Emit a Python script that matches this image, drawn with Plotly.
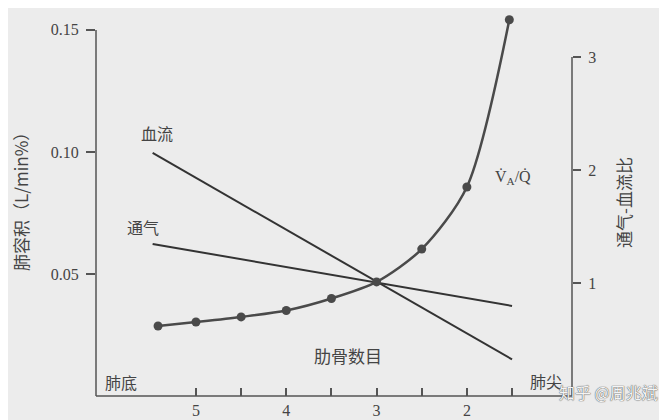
import plotly.graph_objects as go

# Data
rib_lines = [5.48, 1.5]                 # rib number at ends of straight lines
blood_flow = [0.0996, 0.0150]           # L/min% (left axis)
ventilation = [0.0623, 0.0369]          # L/min% (left axis)

rib_points = [5.42, 5, 4.5, 4, 3.5, 3, 2.5, 2, 1.53]
va_q = [0.62, 0.655, 0.70, 0.757, 0.863, 1.01, 1.30, 1.85, 3.33]

x_major = [5, 4, 3, 2]
x_minor = [4.5, 3.5, 2.5, 1.5]
left_ticks = [0.05, 0.10, 0.15]
left_ticktext = ["0.05", "0.10", "0.15"]
right_ticks = [1, 2, 3]

BG = "#ececec"
INK = "#333333"
AX = "#555555"
SERIF = "Liberation Serif, Noto Sans CJK SC, serif"
CJK = "Noto Sans CJK SC, Liberation Serif, sans-serif"

fig = go.Figure()
fig.add_trace(go.Scatter(x=rib_lines, y=blood_flow, mode="lines",
                         line=dict(color=INK, width=2), yaxis="y", showlegend=False))
fig.add_trace(go.Scatter(x=rib_lines, y=ventilation, mode="lines",
                         line=dict(color=INK, width=2), yaxis="y", showlegend=False))
fig.add_trace(go.Scatter(x=rib_points, y=va_q, mode="lines+markers",
                         line=dict(color="#4a4a4a", width=2.5, shape="spline", smoothing=0.8),
                         marker=dict(color="#4a4a4a", size=9),
                         yaxis="y2", showlegend=False, cliponaxis=False))

# the page body adds an 8px margin, so the figure is 8px smaller and shifted
fig.update_layout(
    width=659, height=412,
    paper_bgcolor=BG, plot_bgcolor=BG,
    margin=dict(l=88, r=95, t=7, b=24),
    xaxis=dict(range=[6.107, 0.836], showgrid=False, zeroline=False, showline=False,
               automargin=False,
               tickmode="array", tickvals=x_major,
               ticks="inside", ticklen=8, tickwidth=1.5, tickcolor=AX,
               ticklabelstandoff=3,
               minor=dict(tickvals=x_minor, ticks="inside", ticklen=8,
                          tickwidth=1.5, tickcolor=AX, showgrid=False),
               tickfont=dict(family=SERIF, size=16, color="#444")),
    yaxis=dict(range=[0, 0.1561], showgrid=False, zeroline=False, showline=False,
               automargin=False,
               tickmode="array", tickvals=left_ticks, ticktext=left_ticktext,
               ticks="outside", ticklen=9, tickwidth=1.5, tickcolor=AX,
               ticklabelstandoff=4,
               tickfont=dict(family=SERIF, size=16, color="#444")),
    yaxis2=dict(range=[0, 3.372], overlaying="y", side="right", showgrid=False,
                zeroline=False, showline=False, automargin=False,
                tickmode="array", tickvals=right_ticks,
                ticks="outside", ticklen=8, tickwidth=1.5, tickcolor=AX,
                ticklabelstandoff=4,
                tickfont=dict(family=SERIF, size=16, color="#444")),
)

# axis lines (left 0-0.15, right 0-3, bottom full width)
fig.add_shape(type="line", xref="paper", yref="y", x0=0, x1=0, y0=0, y1=0.15,
              line=dict(color=AX, width=1.5))
fig.add_shape(type="line", xref="paper", yref="y2", x0=1, x1=1, y0=0, y1=3,
              line=dict(color=AX, width=1.5))
fig.add_shape(type="line", xref="paper", yref="paper", x0=0, x1=1, y0=0, y1=0,
              line=dict(color=AX, width=1.5))

def ann(text, x, y, size=16, angle=0, family=CJK, color="#444"):
    fig.add_annotation(text=text, x=x, y=y, xref="paper", yref="paper",
                       xanchor="center", yanchor="middle", showarrow=False,
                       textangle=angle, font=dict(family=family, size=size, color=color))

# screen-pixel helpers (plot area on screen: x 96..572, y 15..396)
def px(x): return (x - 96) / 476
def py(y): return (396 - y) / 381

ann("血流", px(157), py(133))
ann("通气", px(143), py(227))
ann("V̇<sub>A</sub>/Q̇", px(513), py(177), size=16, family=SERIF)
ann("肋骨数目", px(348), py(355), size=17)
ann("肺底", px(121), py(382))
ann("肺尖", px(546), py(381))
ann("肺容积（L/min%）", px(20), py(198), size=17, angle=-90)
ann("通气-血流比", px(623), py(203), size=17, angle=-90)
fig.add_annotation(text="知乎 @周兆斌", x=px(608), y=py(392), xref="paper", yref="paper",
                   xanchor="center", yanchor="middle", showarrow=False,
                   font=dict(family=CJK, size=16, color="#f4f4f4",
                             shadow="0px 0px 1px #555, 0px 0px 1px #555"))

fig.write_html("out.html")
